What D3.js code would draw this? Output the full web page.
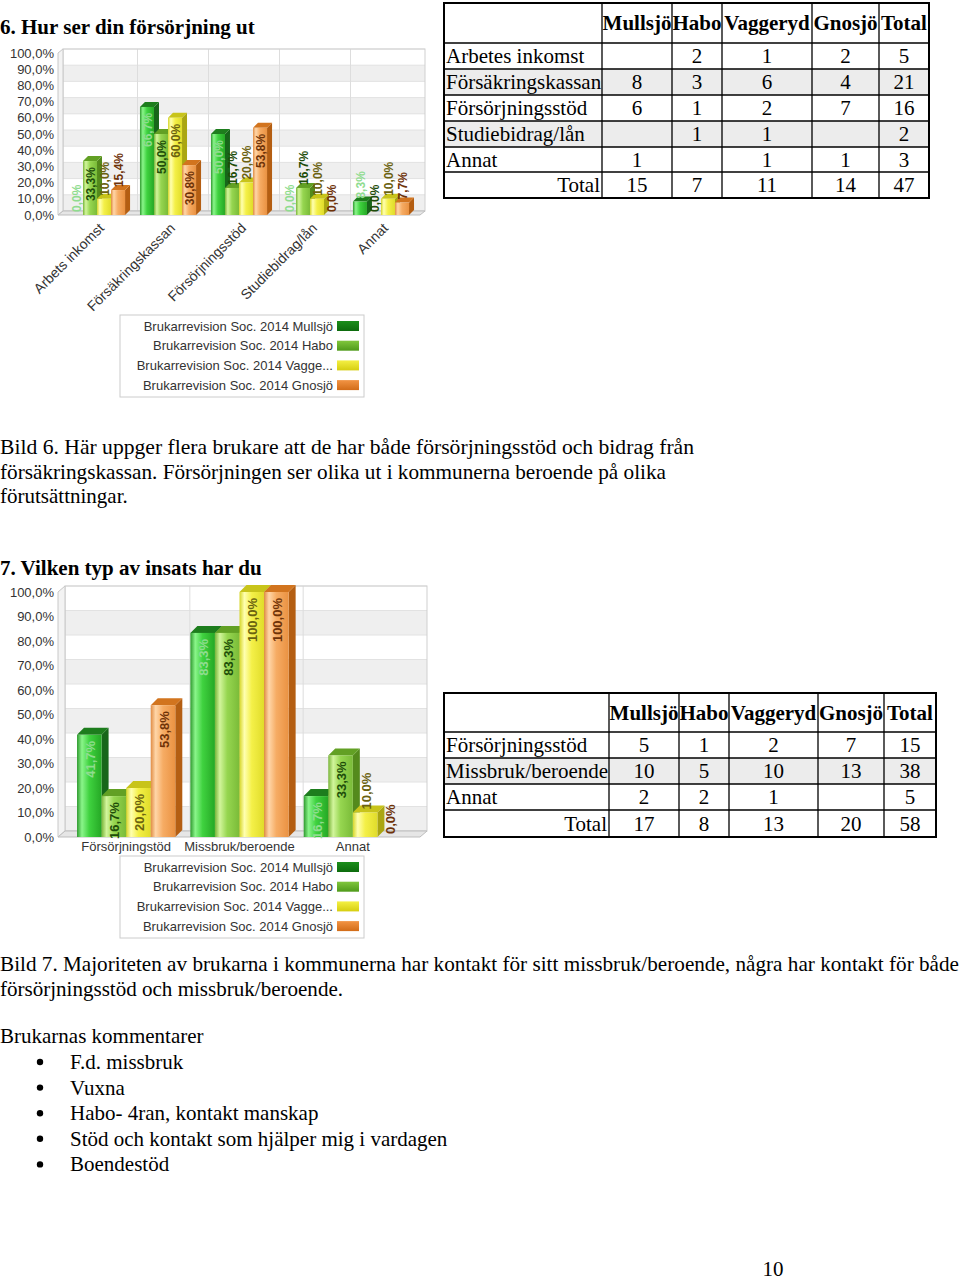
<!DOCTYPE html>
<html><head><meta charset="utf-8">
<script src="https://cdn.jsdelivr.net/npm/d3@7"></script>
<style>
html,body{margin:0;padding:0;background:#fff;}
svg{display:block;}
</style></head><body>
<svg id="page" width="960" height="1282"></svg>
<script>
// ---------------- DATA ----------------
const series = ["Mullsjö", "Habo", "Vaggeryd", "Gnosjö"];
const legendLabels = ["Brukarrevision Soc. 2014 Mullsjö", "Brukarrevision Soc. 2014 Habo", "Brukarrevision Soc. 2014 Vagge...", "Brukarrevision Soc. 2014 Gnosjö"];
const yTicks = [0, 10, 20, 30, 40, 50, 60, 70, 80, 90, 100];

// Chart 6
const cats1 = ["Arbets inkomst", "Försäkringskassan", "Försörjningsstöd", "Studiebidrag/lån", "Annat"];
const c1Mullsjo = [0.0, 66.7, 50.0, 0.0, 8.3];
const c1Habo = [33.3, 50.0, 16.7, 16.7, 0.0];
const c1Vaggeryd = [10.0, 60.0, 20.0, 10.0, 10.0];
const c1Gnosjo = [15.4, 30.8, 53.8, 0.0, 7.7];

// Table 6
const t1Header = ["", "Mullsjö", "Habo", "Vaggeryd", "Gnosjö", "Total"];
const t1Rows = ["Arbetes inkomst", "Försäkringskassan", "Försörjningsstöd", "Studiebidrag/lån", "Annat"];
const t1Mullsjo = [null, 8, 6, null, 1];
const t1Habo = [2, 3, 1, 1, null];
const t1Vaggeryd = [1, 6, 2, 1, 1];
const t1Gnosjo = [2, 4, 7, null, 1];
const t1Total = [5, 21, 16, 2, 3];
const t1Totals = [15, 7, 11, 14, 47];

// Chart 7
const cats2 = ["Försörjningstöd", "Missbruk/beroende", "Annat"];
const c2Mullsjo = [41.7, 83.3, 16.7];
const c2Habo = [16.7, 83.3, 33.3];
const c2Vaggeryd = [20.0, 100.0, 10.0];
const c2Gnosjo = [53.8, 100.0, 0.0];

// Table 7
const t2Header = ["", "Mullsjö", "Habo", "Vaggeryd", "Gnosjö", "Total"];
const t2Rows = ["Försörjningsstöd", "Missbruk/beroende", "Annat"];
const t2Mullsjo = [5, 10, 2];
const t2Habo = [1, 5, 2];
const t2Vaggeryd = [2, 10, 1];
const t2Gnosjo = [7, 13, null];
const t2Total = [15, 38, 5];
const t2Totals = [17, 8, 13, 20, 58];

// Texts
const title1 = "6. Hur ser din försörjning ut";
const caption1 = ["Bild 6.  Här uppger flera brukare att de har både försörjningsstöd och bidrag från",
  "försäkringskassan. Försörjningen ser olika ut i kommunerna beroende på olika",
  "förutsättningar."];
const title2 = "7. Vilken typ av insats har du";
const caption2 = ["Bild 7. Majoriteten av brukarna i kommunerna har kontakt för sitt missbruk/beroende, några har kontakt för både",
  "försörjningsstöd och missbruk/beroende."];
const commentsTitle = "Brukarnas kommentarer";
const comments = ["F.d. missbruk", "Vuxna", "Habo- 4ran, kontakt manskap", "Stöd och kontakt som hjälper mig i vardagen", "Boendestöd"];
const pageNumber = "10";

// ---------------- STYLE ----------------
const serif = "'Liberation Serif','Times New Roman',serif";
const sans = "'Liberation Sans',Arial,sans-serif";
const pal = [
  {edge:"#2f9a2f", hi:"#8af58a", base:"#3fd23f", end:"#25a825", top:"#1d7d1d", side:"#17661a", lab:"#8fdc8f", l1:"#1b8e1b", l2:"#0d6b0d"},
  {edge:"#79b53a", hi:"#d2f59c", base:"#96d650", end:"#7abb38", top:"#62a024", side:"#548a1c", lab:"#1e4d0a", l1:"#80c63c", l2:"#4f9a1a"},
  {edge:"#d6d62a", hi:"#ffffb0", base:"#f4f048", end:"#e0dc2a", top:"#c8c41a", side:"#aaa612", lab:"#6b6210", l1:"#f4f044", l2:"#d6ce10"},
  {edge:"#e08c44", hi:"#ffd6a8", base:"#f6ac64", end:"#ea9242", top:"#d2741e", side:"#b45e12", lab:"#6e3208", l1:"#f29444", l2:"#d26c18"}
];
const fmtPct = v => d3.format(".1f")(v).replace(".", ",") + "%";

const svg = d3.select("#page");
const defs = svg.append("defs");
pal.forEach((p, i) => {
  const g = defs.append("linearGradient").attr("id", "front" + i).attr("x1", 0).attr("x2", 1).attr("y1", 0).attr("y2", 0);
  [[0, p.edge], [0.2, p.hi], [0.5, p.base], [1, p.end]].forEach(s => g.append("stop").attr("offset", s[0]).attr("stop-color", s[1]));
  const l = defs.append("linearGradient").attr("id", "leg" + i).attr("x1", 0).attr("x2", 0).attr("y1", 0).attr("y2", 1);
  [[0, p.l1], [1, p.l2]].forEach(s => l.append("stop").attr("offset", s[0]).attr("stop-color", s[1]));
});

// ---------------- CHART ----------------
function drawChart(cfg) {
  const g = svg.append("g");
  const {cats, vals, yTop, y0, xL, xR, bandRange, pI, pO, dx, dy, bdx, bdy, labelSize} = cfg;
  const y = d3.scaleLinear().domain([0, 100]).range([y0, yTop]);
  const x = d3.scaleBand().domain(cats).range(bandRange).paddingInner(pI).paddingOuter(pO);
  const xs = d3.scaleBand().domain(series).range([0, x.bandwidth()]);

  // back wall
  g.append("rect").attr("x", xL + dx).attr("y", yTop + dy).attr("width", xR - xL).attr("height", y0 - yTop)
    .attr("fill", "#fff");
  [0, 20, 40, 60, 80].forEach(k => {
    g.append("rect").attr("x", xL + dx).attr("y", y(k + 10) + dy).attr("width", xR - xL)
      .attr("height", y(k) - y(k + 10)).attr("fill", "#efefef");
  });
  yTicks.forEach(t => g.append("line").attr("x1", xL + dx).attr("x2", xR + dx).attr("y1", y(t) + dy).attr("y2", y(t) + dy)
    .attr("stroke", "#e2e2e2").attr("stroke-width", 1));
  cats.slice(1).forEach(c => {
    const xb = x(c) - x.step() * pI / 2 + dx;
    g.append("line").attr("x1", xb).attr("x2", xb).attr("y1", yTop + dy).attr("y2", y0 + dy).attr("stroke", "#dddddd");
  });
  g.append("rect").attr("x", xL + dx).attr("y", yTop + dy).attr("width", xR - xL).attr("height", y0 - yTop)
    .attr("fill", "none").attr("stroke", "#cfcfcf");
  // left wall
  g.append("polygon").attr("points", [[xL, yTop], [xL + dx, yTop + dy], [xL + dx, y0 + dy], [xL, y0]].join(" "))
    .attr("fill", "#f3f3f3").attr("stroke", "#c8c8c8");
  // floor
  g.append("polygon").attr("points", [[xL, y0], [xR, y0], [xR + dx, y0 + dy], [xL + dx, y0 + dy]].join(" "))
    .attr("fill", "#e6e6e6").attr("stroke", "#bdbdbd");

  // y axis
  const ya = g.append("g").attr("transform", `translate(${xL},0)`)
    .call(d3.axisLeft(y).tickValues(yTicks).tickSize(0).tickPadding(4).tickFormat(fmtPct));
  ya.select(".domain").remove();
  ya.selectAll("text").attr("font-family", sans).attr("font-size", 13).attr("fill", "#333");

  // bars
  const barsG = g.append("g");
  const labG = g.append("g");
  const w = xs.bandwidth();
  cats.forEach((c, i) => {
    series.forEach((s, si) => {
      const v = vals[si][i];
      const bx = x(c) + xs(s);
      const top = y(v);
      if (v > 0) {
        const p = pal[si];
        barsG.append("polygon").attr("points", [[bx + w, top], [bx + w + bdx, top + bdy], [bx + w + bdx, y0 + bdy], [bx + w, y0]].join(" "))
          .attr("fill", p.side);
        barsG.append("polygon").attr("points", [[bx, top], [bx + bdx, top + bdy], [bx + w + bdx, top + bdy], [bx + w, top]].join(" "))
          .attr("fill", p.top);
        barsG.append("rect").attr("x", bx).attr("y", top).attr("width", w).attr("height", y0 - top)
          .attr("fill", `url(#front${si})`);
      }
      const t = labG.append("text").attr("font-family", sans).attr("font-size", labelSize).attr("font-weight", "bold")
        .attr("fill", pal[si].lab).attr("dy", "0.35em").text(fmtPct(v));
      const len = t.node().getComputedTextLength();
      const h = y0 - top;
      let anchor, py;
      if (h >= len) { anchor = "end"; py = top + 6; } else { anchor = "start"; py = top - 3; }
      t.attr("text-anchor", anchor).attr("transform", `translate(${bx + w / 2 + 1},${py}) rotate(-90)`);
    });
  });

  // x axis
  const xa = g.append("g").attr("transform", `translate(0,${y0})`).call(d3.axisBottom(x).tickSize(0).tickPadding(cfg.xPad));
  xa.select(".domain").remove();
  xa.selectAll("text").attr("font-family", sans).attr("font-size", cfg.xFont).attr("fill", "#333");
  if (cfg.rotate) {
    xa.selectAll("text").attr("x", 0).attr("y", 0).attr("dy", 0).attr("text-anchor", "end")
      .attr("transform", `translate(${cfg.rotDx},${cfg.rotDy}) rotate(-45)`);
  }

  // legend
  const lg = g.append("g");
  lg.append("rect").attr("x", cfg.legX).attr("y", cfg.legY).attr("width", 244).attr("height", 82)
    .attr("fill", "#fff").attr("stroke", "#cccccc");
  legendLabels.forEach((lab, li) => {
    const cy = cfg.legY + 11 + li * 19.7;
    lg.append("text").attr("x", cfg.legX + 213).attr("y", cy).attr("dy", "0.35em").attr("text-anchor", "end")
      .attr("font-family", sans).attr("font-size", 13).attr("fill", "#333").text(lab);
    lg.append("rect").attr("x", cfg.legX + 217).attr("y", cy - 5).attr("width", 22).attr("height", 10)
      .attr("fill", `url(#leg${li})`);
  });
}

drawChart({
  cats: cats1, vals: [c1Mullsjo, c1Habo, c1Vaggeryd, c1Gnosjo],
  yTop: 53, y0: 215, xL: 58, xR: 420, dx: 5, dy: -4, bdx: 5, bdy: -5,
  bandRange: [64, 414], pI: 0.21, pO: 0.07, labelSize: 12,
  rotate: true, xPad: 0, xFont: 14, rotDx: 8, rotDy: 14,
  legX: 120, legY: 315
});

drawChart({
  cats: cats2, vals: [c2Mullsjo, c2Habo, c2Vaggeryd, c2Gnosjo],
  yTop: 592, y0: 837, xL: 58, xR: 420, dx: 7, dy: -6, bdx: 7, bdy: -7,
  bandRange: [70, 409], pI: 0.133, pO: 0.062, labelSize: 13,
  rotate: false, xPad: 5, xFont: 13,
  legX: 120, legY: 856
});

// ---------------- TABLES ----------------
function drawTable(cfg) {
  const g = svg.append("g");
  const {colEdges: ce, rowEdges: re, header, rowLabels, cols, totals, grayRows} = cfg;
  const W = ce[ce.length - 1] - ce[0];
  grayRows.forEach(r => g.append("rect").attr("x", ce[0]).attr("y", re[r + 1]).attr("width", W)
    .attr("height", re[r + 2] - re[r + 1]).attr("fill", "#ececec"));
  const cx = j => (ce[j] + ce[j + 1]) / 2;
  const base = r => (re[r] + re[r + 1]) / 2 + 7;
  header.forEach((h, j) => {
    if (!h) return;
    g.append("text").attr("x", cx(j)).attr("y", base(0)).attr("text-anchor", "middle")
      .attr("font-family", serif).attr("font-size", 21).attr("font-weight", "bold").text(h);
  });
  rowLabels.forEach((lab, r) => {
    g.append("text").attr("x", ce[0] + 2).attr("y", base(r + 1)).attr("font-family", serif).attr("font-size", 21).text(lab);
    cols.forEach((col, j) => {
      if (col[r] == null) return;
      g.append("text").attr("x", cx(j + 1)).attr("y", base(r + 1)).attr("text-anchor", "middle")
        .attr("font-family", serif).attr("font-size", 21).text(col[r]);
    });
  });
  const tr = rowLabels.length + 1;
  g.append("text").attr("x", ce[1] - 2).attr("y", base(tr)).attr("text-anchor", "end")
    .attr("font-family", serif).attr("font-size", 21).text("Total");
  totals.forEach((v, j) => g.append("text").attr("x", cx(j + 1)).attr("y", base(tr)).attr("text-anchor", "middle")
    .attr("font-family", serif).attr("font-size", 21).text(v));
  // lines
  re.slice(1, -1).forEach(yv => g.append("line").attr("x1", ce[0]).attr("x2", ce[ce.length - 1]).attr("y1", yv).attr("y2", yv)
    .attr("stroke", "#000").attr("stroke-width", 1.3));
  ce.slice(1, -1).forEach(xv => g.append("line").attr("x1", xv).attr("x2", xv).attr("y1", re[0]).attr("y2", re[re.length - 1])
    .attr("stroke", "#000").attr("stroke-width", 1.3));
  g.append("rect").attr("x", ce[0]).attr("y", re[0]).attr("width", W).attr("height", re[re.length - 1] - re[0])
    .attr("fill", "none").attr("stroke", "#000").attr("stroke-width", 2);
}

drawTable({
  colEdges: [444, 602, 672, 722, 812, 879, 929],
  rowEdges: [3, 43, 69, 95, 121, 147, 172, 198],
  header: t1Header, rowLabels: t1Rows,
  cols: [t1Mullsjo, t1Habo, t1Vaggeryd, t1Gnosjo, t1Total], totals: t1Totals, grayRows: [1, 3]
});
drawTable({
  colEdges: [444, 609, 679, 729, 818, 884, 936],
  rowEdges: [693, 732, 758, 784, 810, 837],
  header: t2Header, rowLabels: t2Rows,
  cols: [t2Mullsjo, t2Habo, t2Vaggeryd, t2Gnosjo, t2Total], totals: t2Totals, grayRows: [1]
});

// ---------------- PAGE TEXT ----------------
function txt(x, y, s, opts = {}) {
  const t = svg.append("text").attr("x", x).attr("y", y).attr("font-family", serif).attr("font-size", opts.size || 21)
    .attr("fill", "#000").text(s);
  if (opts.bold) t.attr("font-weight", "bold");
  if (opts.len) t.attr("textLength", opts.len).attr("lengthAdjust", "spacingAndGlyphs");
  if (opts.anchor) t.attr("text-anchor", opts.anchor);
  return t;
}
txt(0, 34, title1, {bold: true});
const cap1Len = [694, 666, null];
caption1.forEach((l, i) => txt(0, 454 + i * 24.5, l, {len: cap1Len[i]}));
txt(0, 575, title2, {bold: true});
const cap2Len = [959, 343];
caption2.forEach((l, i) => txt(0, 971 + i * 25, l, {len: cap2Len[i]}));
txt(0, 1043, commentsTitle);
comments.forEach((c, i) => {
  const yb = 1069 + i * 25.6;
  svg.append("circle").attr("cx", 40).attr("cy", yb - 7).attr("r", 3.2).attr("fill", "#000");
  txt(70, yb, c);
});
txt(773, 1276, pageNumber, {anchor: "middle"});
</script>
</body></html>
